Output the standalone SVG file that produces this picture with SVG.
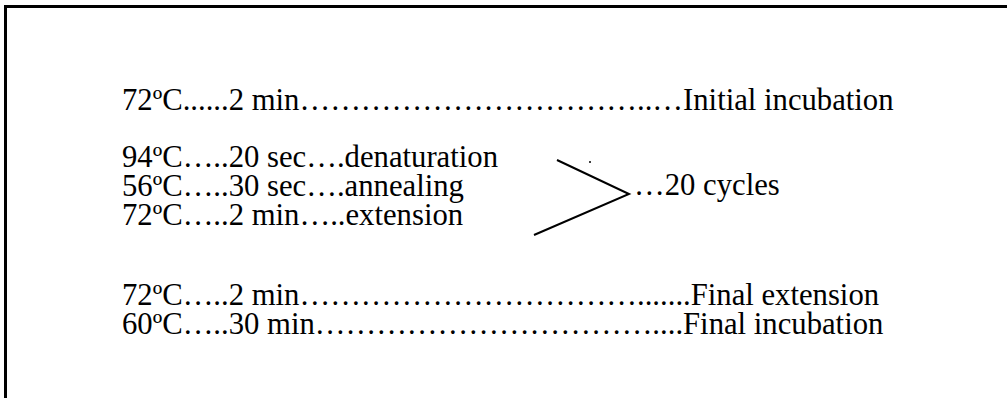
<svg xmlns="http://www.w3.org/2000/svg" width="1007" height="398" viewBox="0 0 1007 398">
<style>
.ln{stroke:#000;stroke-width:2;fill:none}
</style>
<rect width="1007" height="398" fill="#fff"/>
<path d="M5.5 398V6.5H1007" fill="none" stroke="#000" stroke-width="3"/>
<g fill="#000">
<g id="row-initial"><text font-family="Liberation Serif" font-size="30.7" x="122" y="110">72ºC......2 min……………………………..…Initial incubation</text></g>
<g id="row-denaturation"><text font-family="Liberation Serif" font-size="30.7" x="122" y="167">94ºC…..20 sec….denaturation</text></g>
<g id="row-annealing"><text font-family="Liberation Serif" font-size="30.7" x="122" y="196">56ºC…..30 sec….annealing</text></g>
<g id="row-extension"><text font-family="Liberation Serif" font-size="30.7" x="122" y="225">72ºC…..2 min…..extension</text></g>
<g id="cycles"><text font-family="Liberation Serif" font-size="30.7" x="634" y="195">…20 cycles</text></g>
<g id="row-final-extension"><text font-family="Liberation Serif" font-size="30.7" x="122" y="305">72ºC…..2 min…………………………….......Final extension</text></g>
<g id="row-final-incubation"><text font-family="Liberation Serif" font-size="30.7" x="122" y="334">60ºC…..30 min……………………………....Final incubation</text></g>
</g>
<g id="connectors">
<path class="ln" d="M557 160L629 194L534 235"/>
<circle cx="590" cy="162" r="1" fill="#000"/>
</g>
</svg>
